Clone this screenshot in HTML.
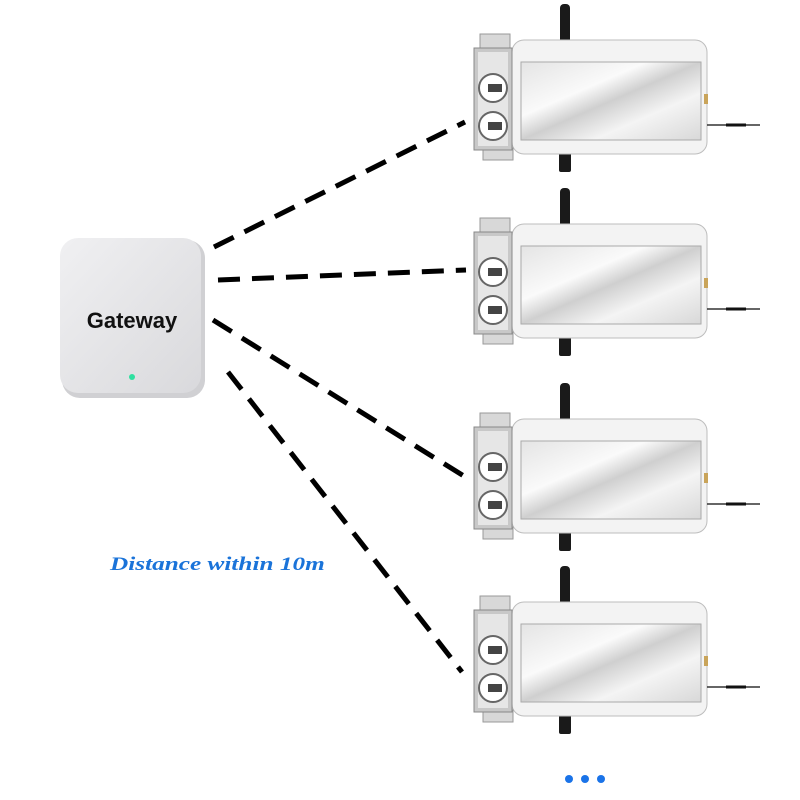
<!DOCTYPE html>
<html><head><style>body{margin:0;background:#fff}svg{display:block}</style></head><body>
<svg width="800" height="800" viewBox="0 0 800 800" xmlns="http://www.w3.org/2000/svg">
<defs>
<linearGradient id="pan" x1="0" y1="0" x2="1" y2="1">
<stop offset="0" stop-color="#e4e4e4"/><stop offset="0.35" stop-color="#fafafa"/><stop offset="0.5" stop-color="#cfcfcf"/><stop offset="0.7" stop-color="#f4f4f4"/><stop offset="1" stop-color="#d8d8d8"/></linearGradient>
<linearGradient id="gw" x1="0" y1="0" x2="1" y2="1"><stop offset="0" stop-color="#f0f0f2"/><stop offset="1" stop-color="#d9d9dc"/></linearGradient>
<g id="lock">
<rect x="100" y="0" width="10" height="40" rx="4" fill="#1a1a1a"/>
<rect x="99" y="148" width="12" height="20" rx="2" fill="#1a1a1a"/>
<rect x="52" y="36" width="195" height="114" rx="12" fill="#f3f3f3" stroke="#bdbdbd"/>
<rect x="61" y="58" width="180" height="78" fill="url(#pan)" stroke="#aaa"/>
<rect x="20" y="30" width="30" height="16" fill="#d8d8d8" stroke="#999"/>
<rect x="23" y="144" width="30" height="12" fill="#d8d8d8" stroke="#999"/>
<rect x="14" y="44" width="38" height="102" fill="#c8c8c8" stroke="#888"/>
<rect x="18" y="48" width="30" height="94" fill="#e6e6e6"/>
<circle cx="33" cy="84" r="14" fill="#fff" stroke="#666" stroke-width="2"/>
<rect x="28" y="80" width="14" height="8" fill="#444"/>
<circle cx="33" cy="122" r="14" fill="#fff" stroke="#666" stroke-width="2"/>
<rect x="28" y="118" width="14" height="8" fill="#444"/>
<rect x="244" y="90" width="4" height="10" fill="#c9a45a"/>
<line x1="247" y1="121" x2="300" y2="121" stroke="#333" stroke-width="1.5"/>
<line x1="266" y1="121" x2="286" y2="121" stroke="#111" stroke-width="3"/>
</g>
</defs>
<g fill="none" stroke="#000" stroke-width="5" stroke-dasharray="22 12">
<line x1="214" y1="247" x2="465" y2="122"/>
<line x1="218" y1="280" x2="466" y2="270"/>
<line x1="213" y1="320" x2="467" y2="478"/>
<line x1="228" y1="372" x2="462" y2="672"/>
</g>
<use href="#lock" x="460" y="4"/>
<use href="#lock" x="460" y="188"/>
<use href="#lock" x="460" y="383"/>
<use href="#lock" x="460" y="566"/>
<rect x="62" y="240" width="143" height="158" rx="18" fill="#d0d0d3"/>
<rect x="60" y="238" width="141" height="155" rx="18" fill="url(#gw)"/>
<text x="132" y="328" text-anchor="middle" font-family="Liberation Sans, sans-serif" font-weight="bold" font-size="22" fill="#111">Gateway</text>
<circle cx="132" cy="377" r="3" fill="#2fe0a0"/>
<text transform="translate(110 570) scale(1.22 1)" x="0" y="0" font-family="Liberation Serif, serif" font-style="italic" font-weight="bold" font-size="19" fill="#1a73d9" textLength="176" lengthAdjust="spacingAndGlyphs">Distance within 10m</text>
<circle cx="569" cy="779" r="4" fill="#1a73e8"/><circle cx="585" cy="779" r="4" fill="#1a73e8"/><circle cx="601" cy="779" r="4" fill="#1a73e8"/>
</svg>
</body></html>
